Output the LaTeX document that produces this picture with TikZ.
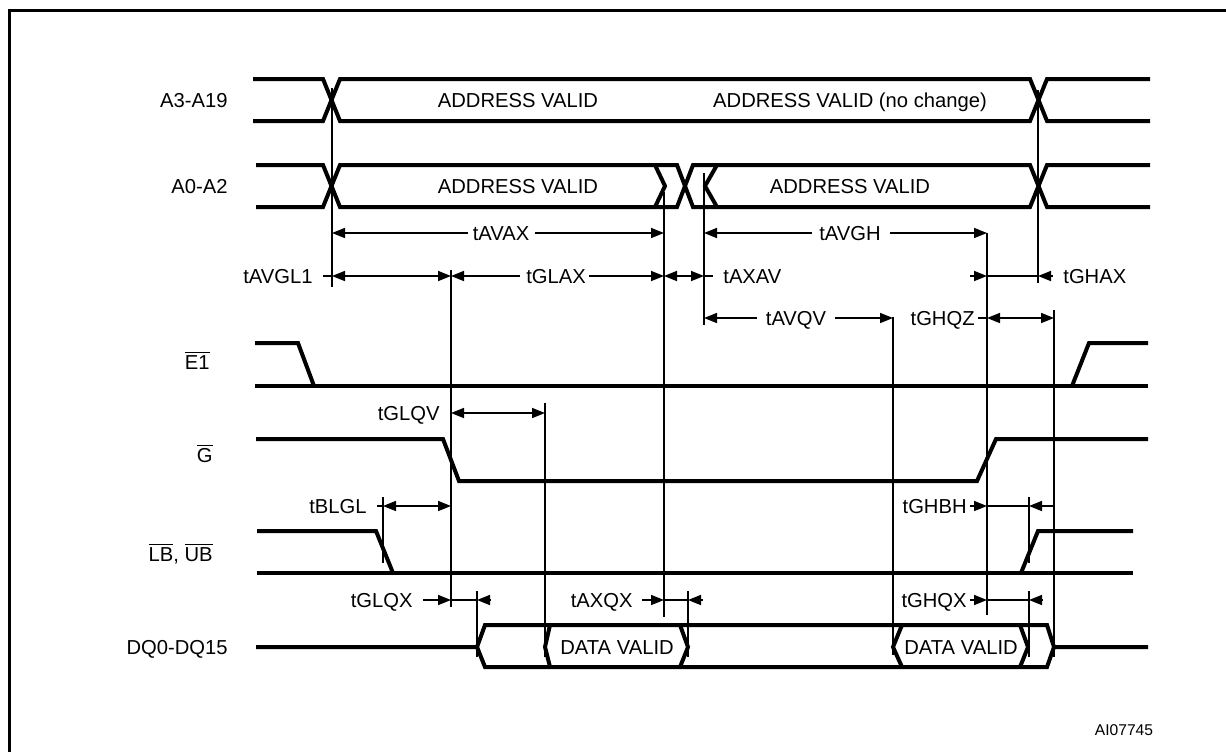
\documentclass[tikz,border=0pt]{standalone}
\usepackage{fontspec}
\setmainfont{Liberation Sans}
\usetikzlibrary{arrows.meta}

\newcommand{\actlow}[1]{$\overline{\mbox{#1}}$}

\tikzset{
  sig/.style={line width=2pt},
  guide/.style={line width=0.8pt},
  dim/.style={line width=0.8pt},
  txt/.style={font=\fontsize{10.1}{12}\selectfont, inner sep=0pt, text height=7.2pt, text depth=0pt},
  >={Triangle[length=6.5pt,width=5pt]}
}

\begin{document}
\begin{tikzpicture}[x=0.5pt, y=-0.5pt]

\useasboundingbox (0,0) rectangle (1226,751);
\clip (0,0) rectangle (1226,751);
\draw[line width=1.5pt] (9.5,10.5) rectangle (1240,770);

% signal names
\node[txt, anchor=east] (nA3) at (228,100) {A3-A19};
\node[txt, anchor=east] (nA0) at (228,186) {A0-A2};
\node[txt, anchor=east] (nE) at (210,362) {\actlow{E1}};
\node[txt, anchor=east] (nG) at (213,455) {\actlow{G}};
\node[txt, anchor=east] (nB) at (213,554) {\actlow{LB}, \actlow{UB}};
\node[txt, anchor=east] (nDQ) at (228,647) {DQ0-DQ15};

% A3-A19
\draw[sig] (253,79) -- (323,79) -- (340,121) -- (1030,121) -- (1047,79) -- (1150,79);
\draw[sig] (253,121) -- (323,121) -- (340,79) -- (1030,79) -- (1047,121) -- (1150,121);
\node[txt] (vA3a) at (518,100) {ADDRESS VALID};
\node[txt] (vA3b) at (850,100) {ADDRESS VALID (no change)};

% A0-A2
\draw[sig] (256,165) -- (323,165) -- (340,207) -- (677,207) -- (693,165) -- (1030,165) -- (1047,207) -- (1150,207);
\draw[sig] (256,207) -- (323,207) -- (340,165) -- (677,165) -- (693,207) -- (1030,207) -- (1047,165) -- (1150,165);
\draw[sig] (655,165) -- (665,186) -- (655,207);
\draw[sig] (717,165) -- (705,186) -- (717,207);
\node[txt] (vA0a) at (518,186) {ADDRESS VALID};
\node[txt] (vA0b) at (850,186) {ADDRESS VALID};

% E1
\draw[sig] (255,343) -- (298,343) -- (314,386);
\draw[sig] (255,386) -- (1148,386);
\draw[sig] (1072,386) -- (1089,343) -- (1148,343);

% G
\draw[sig] (256,439) -- (443,439) -- (459,481) -- (977,481) -- (996,439) -- (1148,439);

% LB, UB
\draw[sig] (257,531) -- (376,531) -- (393,573);
\draw[sig] (257,573) -- (1133,573);
\draw[sig] (1021,573) -- (1038,531) -- (1133,531);

% DQ0-DQ15
\draw[sig] (256,647) -- (477,647) -- (485,625) -- (1047,625) -- (1054,647) -- (1148,647);
\draw[sig] (477,647) -- (485,667) -- (1047,667) -- (1054,647);
\draw[sig] (550,625) -- (545,647) -- (550,667);
\draw[sig] (680,625) -- (688,647) -- (680,667);
\draw[sig] (902,625) -- (893,647) -- (902,667);
\draw[sig] (1020,625) -- (1028,647) -- (1020,667);
\node[txt] (vDQa) at (617,647) {DATA VALID};
\node[txt] (vDQb) at (961,647) {DATA VALID};

% reference lines
\draw[guide] (332,88) -- (332,287);
\draw[guide] (664,192) -- (664,617);
\draw[guide] (704,173) -- (704,325);
\draw[guide] (1038,90) -- (1038,283);
\draw[guide] (451,270) -- (451,607);
\draw[guide] (545,403) -- (545,657);
\draw[guide] (893,317) -- (893,655);
\draw[guide] (987,233) -- (987,615);
\draw[guide] (1054,310) -- (1054,657);
\draw[guide] (383,497) -- (383,563);
\draw[guide] (477,591) -- (477,657);
\draw[guide] (688,591) -- (688,657);
\draw[guide] (1029,497) -- (1029,563);
\draw[guide] (1029,591) -- (1029,657);

% tAVAX
\draw[dim, <-] (332,233) -- (468,233);
\node[txt] (tAVAX) at (501,233) {tAVAX};
\draw[dim, ->] (535,233) -- (664,233);

% tAVGH
\draw[dim, <-] (704,233) -- (812,233);
\node[txt] (tAVGH) at (850,233) {tAVGH};
\draw[dim, ->] (890,233) -- (987,233);

% tAVGL1
\node[txt, anchor=east] (tAVGL) at (313,276) {tAVGL1};
\draw[dim] (323,276) -- (332,276);
\draw[dim, <->] (332,276) -- (451,276);

% tGLAX
\draw[dim, <-] (451,276) -- (520,276);
\node[txt] (tGLAX) at (556,276) {tGLAX};
\draw[dim, ->] (589,276) -- (664,276);

% tAXAV
\draw[dim, <->] (664,276) -- (704,276);
\draw[dim] (704,276) -- (713,276);
\node[txt, anchor=west] (tAXAV) at (723,276) {tAXAV};

% tGHAX
\draw[dim, ->] (970,276) -- (987,276);
\draw[dim] (987,276) -- (1038,276);
\draw[dim, <-] (1038,276) -- (1053,276);
\node[txt, anchor=west] (tGHAX) at (1063,276) {tGHAX};

% tAVQV
\draw[dim, <-] (704,318) -- (757,318);
\node[txt] (tAVQV) at (796,318) {tAVQV};
\draw[dim, ->] (835,318) -- (893,318);

% tGHQZ
\node[txt, anchor=east] (tGHQZ) at (975,318) {tGHQZ};
\draw[dim] (978,318) -- (987,318);
\draw[dim, <->] (987,318) -- (1054,318);

% tGLQV
\node[txt, anchor=east] (tGLQV) at (440,413) {tGLQV};
\draw[dim, <->] (451,413) -- (545,413);

% tBLGL
\node[txt, anchor=east] (tBLGL) at (367,506) {tBLGL};
\draw[dim] (377,506) -- (383,506);
\draw[dim, <->] (383,506) -- (451,506);

% tGHBH
\node[txt, anchor=east] (tGHBH) at (967,506) {tGHBH};
\draw[dim, ->] (970,506) -- (987,506);
\draw[dim] (987,506) -- (1029,506);
\draw[dim, <-] (1029,506) -- (1054,506);

% tGLQX
\node[txt, anchor=east] (tGLQX) at (413,600) {tGLQX};
\draw[dim, ->] (423,600) -- (451,600);
\draw[dim] (451,600) -- (477,600);
\draw[dim, <-] (477,600) -- (490,600);

% tAXQX
\node[txt, anchor=east] (tAXQX) at (633,600) {tAXQX};
\draw[dim, ->] (642,600) -- (664,600);
\draw[dim] (664,600) -- (688,600);
\draw[dim, <-] (688,600) -- (703,600);

% tGHQX
\node[txt, anchor=east] (tGHQX) at (967,600) {tGHQX};
\draw[dim, ->] (970,600) -- (987,600);
\draw[dim] (987,600) -- (1029,600);
\draw[dim, <-] (1029,600) -- (1043,600);

\node[txt, font=\fontsize{7.8}{9}\selectfont, text height=5.6pt] (fig) at (1124,730) {AI07745};

\end{tikzpicture}
\end{document}
